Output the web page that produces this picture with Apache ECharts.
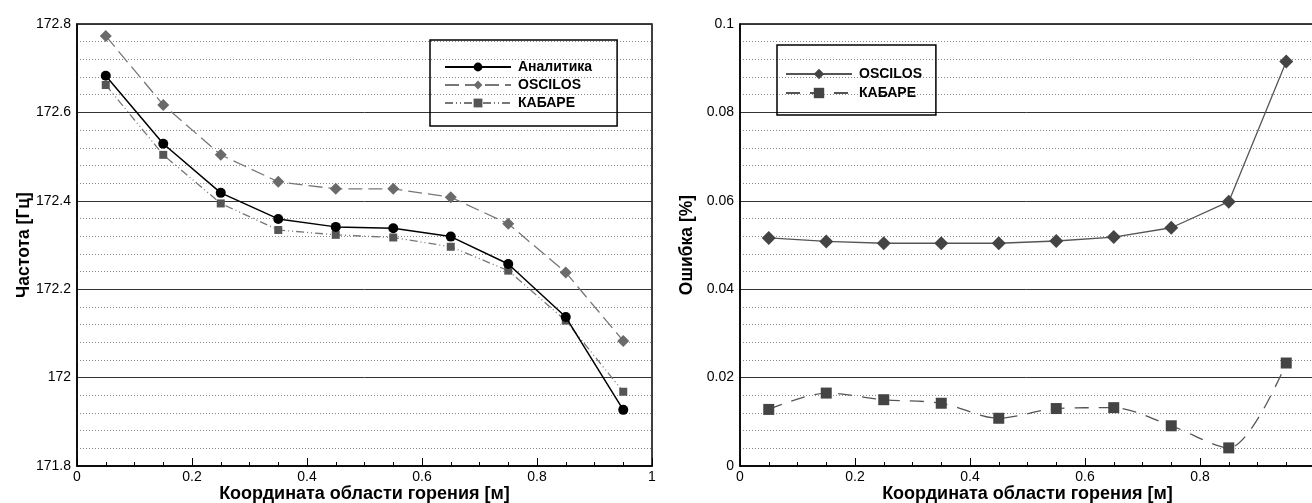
<!DOCTYPE html>
<html><head><meta charset="utf-8">
<script src="https://cdn.jsdelivr.net/npm/echarts@6/dist/echarts.min.js"></script>
<style>html,body{margin:0;padding:0;background:#fff}#c{width:1312px;height:503px}</style>
</head><body><div id="c"></div>
<script>
const xPos = [0.05,0.15,0.25,0.35,0.45,0.55,0.65,0.75,0.85,0.95];
const analytic = [172.683,172.529,172.418,172.359,172.341,172.338,172.319,172.257,172.137,171.927];
const oscilosFreq = [172.773,172.617,172.504,172.443,172.427,172.427,172.408,172.348,172.238,172.083];
const kabareFreq = [172.662,172.504,172.394,172.334,172.323,172.317,172.296,172.242,172.129,171.968];
const oscilosErr = [0.0516,0.0508,0.0504,0.0504,0.0504,0.0509,0.0518,0.0539,0.0598,0.0915];
const kabareErr = [0.0128,0.0165,0.0150,0.0142,0.0108,0.0130,0.0132,0.0091,0.0041,0.0233];
const names = {an:'Аналитика', os:'OSCILOS', kb:'КАБАРЕ'};
const xTitle = 'Координата области горения [м]';
const yTitleL = 'Частота [Гц]';
const yTitleR = 'Ошибка [%]';

const FONT = '"Liberation Sans",Arial,sans-serif';
const pair = a => xPos.map((x,i)=>[x,a[i]]);
const fmt = v => String(+v.toFixed(4));

function xAxis(gi){
  return {gridIndex:gi,type:'value',min:0,max:1,interval:0.2,
    name:xTitle,nameLocation:'middle',nameGap:19,nameMoveOverlap:false,
    nameTextStyle:{fontFamily:FONT,fontSize:18,fontWeight:'bold',color:'#000'},
    axisLine:{show:true,lineStyle:{color:'#000',width:1.5}},
    axisTick:{show:true,inside:true,length:8,lineStyle:{color:'#000'}},
    minorTick:{show:true,splitNumber:4,length:4,lineStyle:{color:'#000'}},
    axisLabel:{fontFamily:FONT,fontSize:14,color:'#000',margin:4,formatter:fmt},
    splitLine:{show:false}};
}
function yAxis(gi,min,max,interval,title){
  return {gridIndex:gi,type:'value',min:min,max:max,interval:interval,
    name:title,nameLocation:'middle',nameGap:44,nameRotate:90,nameMoveOverlap:false,
    nameTextStyle:{fontFamily:FONT,fontSize:17.5,fontWeight:'bold',color:'#000'},
    axisLine:{show:true,lineStyle:{color:'#000',width:1.5}},
    axisTick:{show:false},
    minorTick:{show:false,splitNumber:5},
    minorSplitLine:{show:true,lineStyle:{color:'#888',width:1,type:[1,2]}},
    axisLabel:{fontFamily:FONT,fontSize:14,color:'#000',margin:6,formatter:fmt},
    splitLine:{show:true,lineStyle:{color:'#333',width:1}}};
}

const chart = echarts.init(document.getElementById('c'),null,{renderer:'canvas'});
chart.setOption({
  animation:false,
  backgroundColor:'#fff',
  grid:[
    {left:77,width:575,top:24,bottom:37,show:true,borderColor:'#000',borderWidth:1.5,backgroundColor:'transparent',outerBoundsMode:'none',containLabel:false},
    {left:740,width:575,top:24,bottom:37,show:true,borderColor:'#000',borderWidth:1.5,backgroundColor:'transparent',outerBoundsMode:'none',containLabel:false}
  ],
  xAxis:[xAxis(0),xAxis(1)],
  yAxis:[yAxis(0,171.8,172.8,0.2,yTitleL),yAxis(1,0,0.1,0.02,yTitleR)],
  legend:[
    {orient:'vertical',left:430,top:40,
     data:[names.an,names.os,names.kb].map(n=>({name:n})),
     borderColor:'#000',borderWidth:1.5,padding:[20,25,16,14],itemGap:4,
     itemWidth:66,itemHeight:11,
     textStyle:{fontFamily:FONT,fontSize:14,fontWeight:'bold',color:'#000',padding:[0,0,0,2]},
     selectedMode:false},
    {orient:'vertical',left:777,top:45,
     data:['OSCILOS ','КАБАРЕ '].map(n=>({name:n})),
     borderColor:'#000',borderWidth:1.5,padding:[22,10,15,8],itemGap:5,
     itemWidth:66,itemHeight:13,
     textStyle:{fontFamily:FONT,fontSize:14,fontWeight:'bold',color:'#000',padding:[0,0,0,2]},
     selectedMode:false}
  ],
  series:[
    {name:names.an,type:'line',xAxisIndex:0,yAxisIndex:0,data:pair(analytic),
     symbol:'circle',symbolSize:10,lineStyle:{color:'#000',width:1.5},itemStyle:{color:'#000'},z:5},
    {name:names.os,type:'line',xAxisIndex:0,yAxisIndex:0,data:pair(oscilosFreq),
     symbol:'diamond',symbolSize:12,lineStyle:{color:'#777',width:1.3,type:[14,6]},itemStyle:{color:'#6a6a6a'},z:4},
    {name:names.kb,type:'line',xAxisIndex:0,yAxisIndex:0,data:pair(kabareFreq),
     symbol:'rect',symbolSize:8,lineStyle:{color:'#777',width:1.3,type:[8,3,1,3,1,3]},itemStyle:{color:'#555'},z:3},
    {name:'OSCILOS ',type:'line',xAxisIndex:1,yAxisIndex:1,data:pair(oscilosErr),
     symbol:'diamond',symbolSize:14,lineStyle:{color:'#555',width:1.3},itemStyle:{color:'#444'}},
    {name:'КАБАРЕ ',type:'line',xAxisIndex:1,yAxisIndex:1,data:pair(kabareErr),smooth:0.3,
     symbol:'rect',symbolSize:11,lineStyle:{color:'#555',width:1.3,type:[14,10]},itemStyle:{color:'#444'}}
  ]
});
</script></body></html>
